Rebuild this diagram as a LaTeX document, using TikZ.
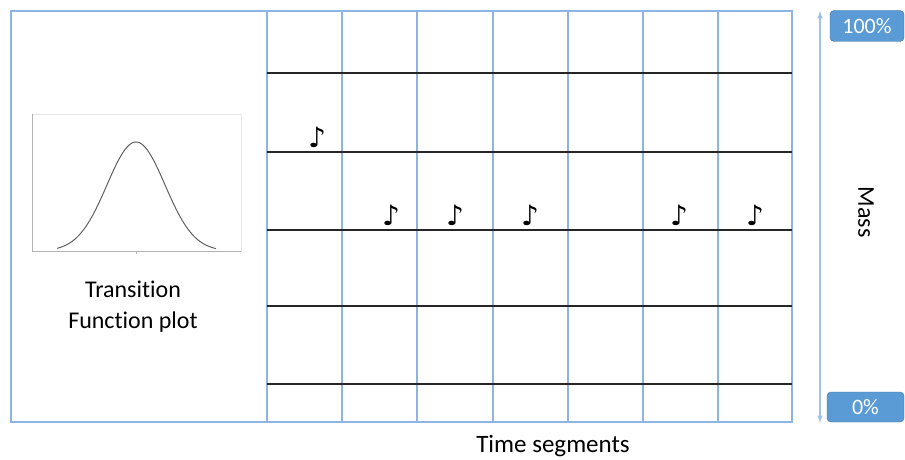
\documentclass[tikz,border=0pt]{standalone}
\usepackage{fontspec}
\setmainfont{Carlito}[Ligatures=NoCommon]
\newfontfamily\notefont{DejaVu Sans}
\usetikzlibrary{arrows,positioning}

\definecolor{gridblue}{RGB}{141,180,226}
\definecolor{axisblue}{RGB}{160,196,232}
\definecolor{levelfill}{RGB}{91,155,213}
\definecolor{levelline}{RGB}{65,113,156}

\begin{document}
\begin{tikzpicture}[
    x=1pt, y=-1pt,
    frame/.style={draw=gridblue, line width=1.5pt},
    staff/.style={draw=black!85, line width=1.5pt},
    note/.style={font=\notefont\fontsize{28}{28}\selectfont, inner sep=0pt},
    level/.style={rectangle, rounded corners=4pt, draw=levelline, fill=levelfill, text=white,
        minimum height=31pt, inner sep=0pt, font=\fontsize{22}{22}\selectfont},
    caption/.style={font=\fontsize{24}{31}\selectfont, align=center},
    arrow/.style={<->, >=latex, draw=axisblue, line width=1.5pt}
]
    \useasboundingbox (0,0) rectangle (905,460);

    % outer frame and time segments
    \draw[frame] (11,11) rectangle (792,422);
    \foreach \x in {267,342,417,493,568,643,718}
        \draw[frame] (\x,11) -- (\x,422);
    \foreach \y in {73,152,230,306,384}
        \draw[staff] (267,\y) -- (792,\y);

    % transition function plot
    \draw[gray!20, line width=0.8pt] (32,114) rectangle (241,251);
    \draw[gray!60, line width=0.8pt] (32,114) -- (32,251) -- (241,251);
    \draw[gray!60, line width=0.8pt] (136,251) -- (136,254);
    \draw[gray!75!black, line width=1pt] plot[domain=57:216, samples=80, smooth]
        (\x, {251-109*exp(-((\x-136)^2)/1682)});
    \node[caption] (plotname) at (133,307) {Transition\\Function plot};

    % notes
    \node[note] (n1) at (317,137) {\textbf{♪}};
    \node[note] (n2) at (391,215) {\textbf{♪}};
    \node[note] (n3) at (455,215) {\textbf{♪}};
    \node[note] (n4) at (530,215) {\textbf{♪}};
    \node[note] (n5) at (679,215) {\textbf{♪}};
    \node[note] (n6) at (755,215) {\textbf{♪}};

    % mass scale
    \coordinate (masstop) at (820,11);
    \coordinate (massbot) at (820,423);
    \draw[arrow] (massbot) -- (masstop);
    \node[level, minimum width=74pt] (full) at (867,26) {100\%};
    \node[level, minimum width=77pt, minimum height=30pt] (empty) at (865.5,407) {0\%};
    \node[font=\fontsize{24}{24}\selectfont, rotate=-90] (mass) at (866,212) {Mass};

    \node[font=\fontsize{25}{25}\selectfont] (time) at (553,446) {Time segments};
\end{tikzpicture}
\end{document}
